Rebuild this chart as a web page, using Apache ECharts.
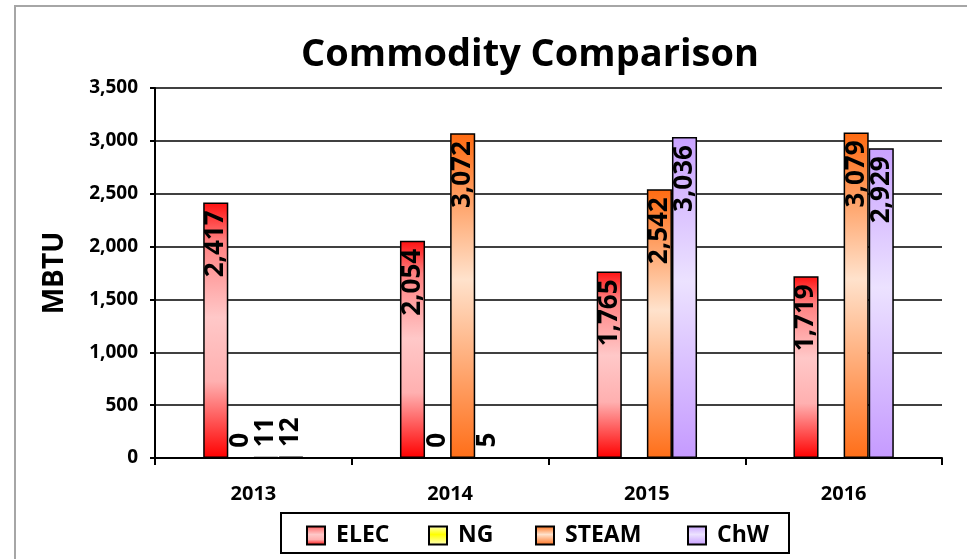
<!DOCTYPE html>
<html>
<head>
<meta charset="utf-8">
<script src="https://cdn.jsdelivr.net/npm/echarts@6/dist/echarts.min.js"></script>
<style>
  html, body { margin: 0; padding: 0; background: #fff; }
  #chart { width: 967px; height: 559px; }
</style>
</head>
<body>
<div id="chart"></div>
<script>
// 数据
const years = ['2013', '2014', '2015', '2016'];
const elec = [2417, 2054, 1765, 1719];
const ng = [0, 0, null, null];
const steam = [11, 3072, 2542, 3079];
const chw = [12, 5, 3036, 2929];
const seriesNames = ['ELEC', 'NG', 'STEAM', 'ChW'];

const FONT = '"Open Sans", Lato, "DejaVu Sans", sans-serif';

const grad = (a, b, c) => ({
  type: 'linear', x: 0, y: 0, x2: 0, y2: 1,
  colorStops: [
    { offset: 0, color: a },
    { offset: 0.45, color: b },
    { offset: 1, color: c }
  ]
});

const colors = {
  ELEC: {
    type: 'linear', x: 0, y: 0, x2: 0, y2: 1,
    colorStops: [
      { offset: 0, color: '#ff1010' },
      { offset: 0.15, color: '#ff8080' },
      { offset: 0.45, color: '#ffc8c8' },
      { offset: 0.7, color: '#ffb0b0' },
      { offset: 1, color: '#ff0000' }
    ]
  },
  NG: grad('#ffffc8', '#ffff00', '#ffffc8'),
  STEAM: grad('#ff6a10', '#ffe2cc', '#ff6e18'),
  ChW: grad('#c9a2ff', '#ece2ff', '#c59aff')
};

const fmt = v => Number(v).toLocaleString('en-US');

// 小数值的标签放在柱子上方
const toData = arr => arr.map(v => {
  if (v === null) return null;
  if (v < 100) {
    return {
      value: v,
      label: { position: 'insideBottom', align: 'left', distance: 11 }
    };
  }
  return v;
});

const makeSeries = (name, arr) => ({
  name: name,
  type: 'bar',
  data: toData(arr),
  barGap: '0%',
  barCategoryGap: '49%',
  itemStyle: { color: colors[name], borderColor: '#000', borderWidth: 1.5 },
  label: {
    show: true,
    position: 'insideTop',
    distance: 8,
    rotate: 90,
    align: 'right',
    verticalAlign: 'middle',
    color: '#000',
    fontFamily: FONT,
    fontWeight: 'bold',
    fontSize: 26,
    formatter: p => fmt(p.value)
  }
});

const legendPos = [306, 428, 535, 687];

let chart = echarts.init(document.getElementById('chart'));
chart.setOption({
  animation: false,
  backgroundColor: '#fff',
  graphic: [
    {
      type: 'rect',
      shape: { x: 15, y: 6, width: 1000, height: 600 },
      style: { fill: 'none', stroke: '#a6a6a6', lineWidth: 2 },
      silent: true
    },
    {
      type: 'rect',
      shape: { x: 281, y: 513, width: 508, height: 40 },
      style: { fill: '#fff', stroke: '#000', lineWidth: 2 },
      silent: true,
      z: -1
    },
    {
      type: 'text',
      x: 530,
      y: 55,
      style: {
        text: 'Commodity Comparison',
        font: 'bold 38px ' + FONT,
        fill: '#000',
        textAlign: 'center',
        textVerticalAlign: 'middle'
      }
    }
  ],
  legend: seriesNames.map((n, i) => ({
    data: [n],
    left: legendPos[i],
    top: 524,
    padding: 0,
    icon: 'rect',
    itemWidth: 18,
    itemHeight: 18,
    textStyle: {
      fontFamily: FONT,
      fontWeight: 'bold',
      fontSize: 23,
      color: '#000',
      padding: [0, 0, 0, 6]
    }
  })),
  grid: { left: 155, right: 25, top: 88, bottom: 101, containLabel: false },
  xAxis: {
    type: 'category',
    data: years,
    axisLine: { lineStyle: { color: '#000', width: 2 } },
    axisTick: { show: true, length: 7, lineStyle: { color: '#000', width: 2 } },
    axisLabel: {
      margin: 26,
      color: '#000',
      fontFamily: FONT,
      fontWeight: 'bold',
      fontSize: 20
    }
  },
  yAxis: {
    type: 'value',
    min: 0,
    max: 3500,
    interval: 500,
    name: 'MBTU',
    nameLocation: 'middle',
    nameRotate: 90,
    nameGap: 86,
    nameTextStyle: {
      color: '#000',
      fontFamily: FONT,
      fontWeight: 'bold',
      fontSize: 28
    },
    axisLine: { show: true, lineStyle: { color: '#000', width: 2 } },
    axisTick: { show: true, length: 5, lineStyle: { color: '#000', width: 2 } },
    splitLine: { lineStyle: { color: '#000', width: 1.5 } },
    axisLabel: {
      margin: 17,
      color: '#000',
      fontFamily: FONT,
      fontWeight: 'bold',
      fontSize: 19,
      formatter: v => fmt(v)
    }
  },
  series: [
    makeSeries('ELEC', elec),
    makeSeries('NG', ng),
    makeSeries('STEAM', steam),
    makeSeries('ChW', chw)
  ]
});
</script>
</body>
</html>
